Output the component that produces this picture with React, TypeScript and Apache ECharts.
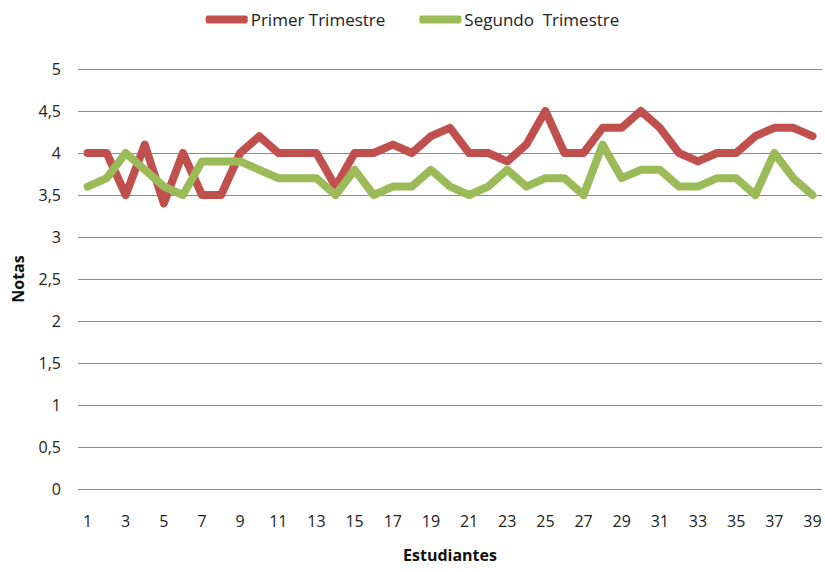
import React, { useEffect, useRef } from "react";
import * as echarts from "echarts";

const students: string[] = Array.from({ length: 39 }, (_, i) => String(i + 1));
const primerTrimestre: number[] = [
  4.0, 4.0, 3.5, 4.1, 3.4, 4.0, 3.5, 3.5, 4.0, 4.2,
  4.0, 4.0, 4.0, 3.6, 4.0, 4.0, 4.1, 4.0, 4.2, 4.3,
  4.0, 4.0, 3.9, 4.1, 4.5, 4.0, 4.0, 4.3, 4.3, 4.5,
  4.3, 4.0, 3.9, 4.0, 4.0, 4.2, 4.3, 4.3, 4.2,
];
const segundoTrimestre: number[] = [
  3.6, 3.7, 4.0, 3.8, 3.6, 3.5, 3.9, 3.9, 3.9, 3.8,
  3.7, 3.7, 3.7, 3.5, 3.8, 3.5, 3.6, 3.6, 3.8, 3.6,
  3.5, 3.6, 3.8, 3.6, 3.7, 3.7, 3.5, 4.1, 3.7, 3.8,
  3.8, 3.6, 3.6, 3.7, 3.7, 3.5, 4.0, 3.7, 3.5,
];
const seriesNames = ["Primer Trimestre", "Segundo  Trimestre"];

const FONT = "'Liberation Sans Narrow', 'Open Sans', sans-serif";

export default function App() {
  const ref = useRef<HTMLDivElement>(null);
  useEffect(() => {
    if (!ref.current) return;
    const chart = echarts.init(ref.current, null, { renderer: "svg" });
    chart.setOption({
      animation: false,
      textStyle: { fontFamily: FONT },
      legend: {
        top: 6,
        left: "center",
        itemWidth: 42,
        itemHeight: 8,
        itemGap: 34,
        itemStyle: { borderWidth: 0 },
        textStyle: { fontSize: 17, color: "#222", fontFamily: FONT, padding: [0, 0, 0, -2] },
        data: [
          { name: seriesNames[0], icon: "roundRect" },
          { name: seriesNames[1], icon: "roundRect" },
        ],
      },
      grid: { left: 78, right: 3, top: 69, bottom: 83 },
      xAxis: {
        type: "category",
        data: students,
        boundaryGap: true,
        axisLine: { show: false },
        axisTick: { show: false },
        axisLabel: { interval: 1, fontSize: 16, color: "#222", margin: 24, fontFamily: FONT },
        name: "Estudiantes",
        nameLocation: "middle",
        nameGap: 58,
        nameTextStyle: { fontSize: 16, fontWeight: "bold", color: "#111", fontFamily: FONT },
      },
      yAxis: {
        type: "value",
        min: 0,
        max: 5,
        interval: 0.5,
        axisLine: { show: false },
        axisTick: { show: false },
        splitLine: { lineStyle: { color: "#8c8c8c", width: 1 } },
        axisLabel: {
          fontSize: 16,
          color: "#222",
          margin: 17,
          fontFamily: FONT,
          formatter: (v: number) => String(v).replace(".", ","),
        },
        name: "Notas",
        nameLocation: "middle",
        nameGap: 52,
        nameTextStyle: { fontSize: 16, fontWeight: "bold", color: "#111", fontFamily: FONT },
      },
      series: [
        {
          name: seriesNames[0],
          type: "line",
          data: primerTrimestre,
          showSymbol: false,
          symbol: "none",
          color: "#C0504D",
          lineStyle: { width: 8, color: "#C0504D", join: "round", cap: "round" },
        },
        {
          name: seriesNames[1],
          type: "line",
          data: segundoTrimestre,
          showSymbol: false,
          symbol: "none",
          color: "#9BBB59",
          lineStyle: { width: 8, color: "#9BBB59", join: "round", cap: "round" },
        },
      ],
    });
    return () => chart.dispose();
  }, []);
  return <div ref={ref} style={{ width: 825, height: 572, position: "absolute", left: 0, top: 0 }} />;
}
